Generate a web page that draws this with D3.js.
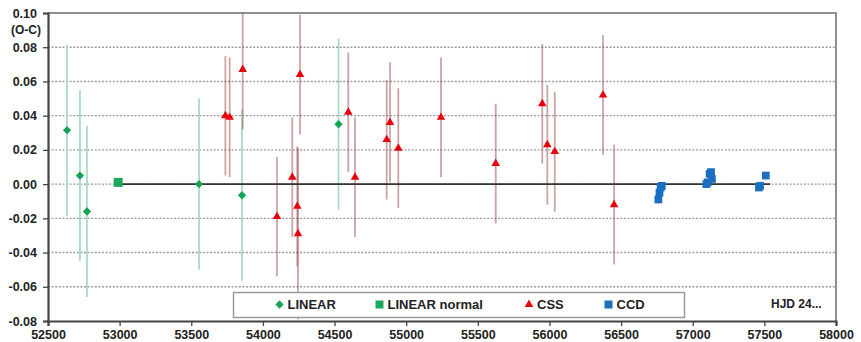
<!DOCTYPE html>
<html>
<head>
<meta charset="utf-8">
<script src="https://cdn.jsdelivr.net/npm/d3@7"></script>
<style>
  html, body { margin: 0; padding: 0; background: #fff; }
  svg text { font-family: "Liberation Sans", Arial, sans-serif; font-weight: bold; fill: #222; }
</style>
</head>
<body>
<svg id="chart" width="861" height="342"></svg>
<script>
// LINEAR individual timings
const linearHJD = [52633, 52723, 52772, 53554, 53854, 54528];
const linearOC  = [0.0315, 0.005, -0.016, 0.000, -0.0065, 0.035];
const linearErr = [0.05, 0.05, 0.05, 0.05, 0.05, 0.05];

// LINEAR normal point
const normalHJD = [52990];
const normalOC  = [0.001];

// CSS timings
const cssHJD = [53738, 53768, 53859, 54098, 54205, 54240, 54245, 54259, 54596, 54643,
                54864, 54887, 54945, 55243, 55625, 55950, 55985, 56037, 56374, 56451];
const cssOC  = [0.040, 0.039, 0.067, -0.019, 0.004, -0.013, -0.029, 0.064, 0.042, 0.004,
                0.026, 0.036, 0.021, 0.039, 0.012, 0.047, 0.023, 0.019, 0.052, -0.012];
const cssErr = [0.035, 0.035, 0.035, 0.035, 0.035, 0.035, 0.05, 0.035, 0.035, 0.035,
                0.035, 0.035, 0.035, 0.035, 0.035, 0.035, 0.035, 0.035, 0.035, 0.035];

// CCD timings
const ccdHJD = [56760, 56768, 56776, 56784, 57095, 57104, 57118, 57128, 57134, 57462, 57470, 57510];
const ccdOC  = [-0.009, -0.005, -0.002, -0.001, 0.000, 0.001, 0.006, 0.007, 0.003, -0.002, -0.001, 0.005];

// Ephemeris (zero line)
const fitHJD = [52990, 57540];
const fitOC  = [0, 0];

// Axis ticks
const xTicks = [52500, 53000, 53500, 54000, 54500, 55000, 55500, 56000, 56500, 57000, 57500, 58000];
const yTicks = [-0.08, -0.06, -0.04, -0.02, 0.00, 0.02, 0.04, 0.06, 0.08, 0.10];
const gridTicks = [-0.06, -0.04, -0.02, 0.00, 0.02, 0.04, 0.06, 0.08];

const legendLabels = ["LINEAR", "LINEAR normal", "CSS", "CCD"];

const svg = d3.select("#chart");
const L = 48, R = 836, T = 13, B = 321;

const x = d3.scaleLinear().domain([52500, 58000]).range([L, R]);
const y = d3.scaleLinear().domain([-0.08, 0.10]).range([B, T]);

svg.append("defs").append("clipPath").attr("id", "plotClip")
  .append("rect").attr("x", L).attr("y", T).attr("width", R - L).attr("height", B - T);

// dotted horizontal grid
svg.append("g").selectAll("line").data(gridTicks).join("line")
  .attr("x1", L).attr("x2", R)
  .attr("y1", d => y(d)).attr("y2", d => y(d))
  .attr("stroke", "#9a9a9a").attr("stroke-width", 1.4)
  .attr("stroke-dasharray", "2,1.6");

// frame: top and right edges
svg.append("path")
  .attr("d", `M${L},${T}H${R}V${B}`)
  .attr("fill", "none").attr("stroke", "#8f8f8f").attr("stroke-width", 2);

const plot = svg.append("g").attr("clip-path", "url(#plotClip)");

// error bars
const linearIdx = d3.range(linearHJD.length);
plot.append("g").selectAll("line").data(linearIdx).join("line")
  .attr("x1", i => x(linearHJD[i])).attr("x2", i => x(linearHJD[i]))
  .attr("y1", i => y(linearOC[i] + linearErr[i])).attr("y2", i => y(linearOC[i] - linearErr[i]))
  .attr("stroke", "#9ed8bd").attr("stroke-width", 1.6);

const cssIdx = d3.range(cssHJD.length);
plot.append("g").selectAll("line").data(cssIdx).join("line")
  .attr("x1", i => x(cssHJD[i])).attr("x2", i => x(cssHJD[i]))
  .attr("y1", i => y(cssOC[i] + cssErr[i])).attr("y2", i => y(cssOC[i] - cssErr[i]))
  .attr("stroke", "#9c4a4a").attr("stroke-opacity", 0.5).attr("stroke-width", 1.8);

// zero line
plot.append("path")
  .datum(d3.range(fitHJD.length))
  .attr("d", d3.line().x(i => x(fitHJD[i])).y(i => y(fitOC[i])))
  .attr("stroke", "#333").attr("stroke-width", 1.8).attr("fill", "none");

// markers
const diamond = d3.symbol().type(d3.symbolDiamond2).size(44);
const triangle = d3.symbol().type(d3.symbolTriangle).size(32);

plot.append("g").selectAll("path").data(linearIdx).join("path")
  .attr("d", diamond)
  .attr("transform", i => `translate(${x(linearHJD[i])},${y(linearOC[i])})`)
  .attr("fill", "#15a355");

plot.append("g").selectAll("path").data(d3.range(normalHJD.length)).join("path")
  .attr("d", d3.symbol().type(d3.symbolSquare).size(81)())
  .attr("transform", i => `translate(${x(normalHJD[i])},${y(normalOC[i])})`)
  .attr("fill", "#1fa85b");

plot.append("g").selectAll("path").data(cssIdx).join("path")
  .attr("d", triangle)
  .attr("transform", i => `translate(${x(cssHJD[i])},${y(cssOC[i])})`)
  .attr("fill", "#e8000d");

plot.append("g").selectAll("path").data(d3.range(ccdHJD.length)).join("path")
  .attr("d", d3.symbol().type(d3.symbolSquare).size(60)())
  .attr("transform", i => `translate(${x(ccdHJD[i])},${y(ccdOC[i])})`)
  .attr("fill", "#1a6fc1");

// axes
const yAxis = svg.append("g").attr("transform", `translate(${L},0)`)
  .call(d3.axisLeft(y).tickValues(yTicks).tickFormat(d3.format(".2f")).tickSize(5).tickPadding(6));
const xAxis = svg.append("g").attr("transform", `translate(0,${B})`)
  .call(d3.axisBottom(x).tickValues(xTicks).tickFormat(d3.format("d")).tickSize(5).tickPadding(4));

[yAxis, xAxis].forEach(a => {
  a.select(".domain").attr("stroke", "#444").attr("stroke-width", 2.2);
  a.selectAll(".tick line").attr("stroke", "#444").attr("stroke-width", 1.3);
  a.selectAll(".tick text").attr("font-size", 12.5).attr("fill", "#222")
    .style("font-family", "'Liberation Sans', Arial, sans-serif").style("font-weight", "bold");
});
yAxis.selectAll(".tick text").text(d => d3.format(".2f")(d).replace("−", "-"));

// axis titles
svg.append("text").attr("x", 41).attr("y", 34).attr("text-anchor", "end")
  .attr("font-size", 12).text("(O-C)");
svg.append("text").attr("x", 771).attr("y", 307.5)
  .attr("font-size", 12).text("HJD 24...");

// legend
const lg = svg.append("g");
lg.append("rect").attr("x", 233.5).attr("y", 292.5).attr("width", 451).attr("height", 25)
  .attr("fill", "#fff").attr("stroke", "#9a9a9a").attr("stroke-width", 1.5);
const legendX = [279.5, 379.5, 529, 608.5];
const legendSym = [
  () => diamond(),
  () => d3.symbol().type(d3.symbolSquare).size(64)(),
  () => d3.symbol().type(d3.symbolTriangle).size(32)(),
  () => d3.symbol().type(d3.symbolSquare).size(64)()
];
const legendColor = ["#15a355", "#1fa85b", "#e8000d", "#1a6fc1"];
legendLabels.forEach((lab, i) => {
  lg.append("path").attr("d", legendSym[i]())
    .attr("transform", `translate(${legendX[i]},${304.5})`)
    .attr("fill", legendColor[i]);
  lg.append("text").attr("x", legendX[i] + 8).attr("y", 309)
    .attr("font-size", 13).text(lab);
});
</script>
</body>
</html>
